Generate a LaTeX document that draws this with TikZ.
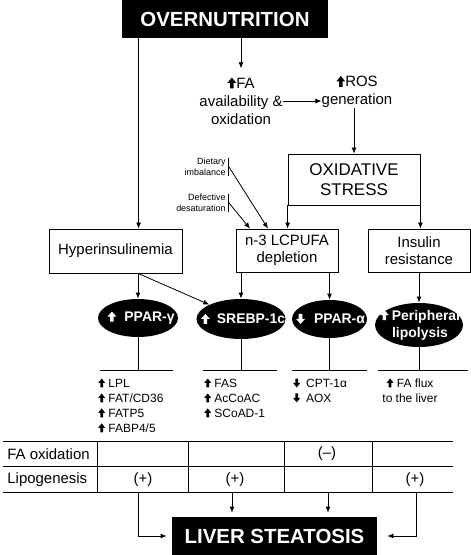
\documentclass[tikz,border=0pt]{standalone}
\usepackage{fontspec}
\setmainfont{Liberation Sans}
\usetikzlibrary{arrows.meta,shapes.geometric}
\newcommand{\blkup}[3]{\tikz[baseline=0pt]\fill[#3] (0.3*#1,0pt) -- (0.7*#1,0pt) -- (0.7*#1,0.5*#2) -- (#1,0.5*#2) -- (0.5*#1,#2) -- (0pt,0.5*#2) -- (0.3*#1,0.5*#2) -- cycle;}
\newcommand{\blkdown}[3]{\tikz[baseline=0pt]\fill[#3] (0.3*#1,#2) -- (0.7*#1,#2) -- (0.7*#1,0.5*#2) -- (#1,0.5*#2) -- (0.5*#1,0pt) -- (0pt,0.5*#2) -- (0.3*#1,0.5*#2) -- cycle;}
\begin{document}
\begin{tikzpicture}[x=1bp,y=-1bp, line width=0.8bp, >={Latex[length=6bp,width=5bp]},
  box/.style={draw, rectangle, inner sep=0pt, align=center, font=\fontsize{15}{17}\selectfont},
  blackbox/.style={fill=black, text=white, inner sep=0pt, font=\fontsize{20.5}{24}\selectfont\bfseries},
  blob/.style={ellipse, fill=black, inner sep=0pt},
  blobtext/.style={text=white, inner sep=0pt, align=center, font=\fontsize{14}{17}\selectfont\bfseries},
  plain/.style={inner sep=0pt, align=center, font=\fontsize{15}{18}\selectfont},
  small/.style={inner sep=0pt, align=right, font=\fontsize{9}{11.5}\selectfont},
  list/.style={inner sep=0pt, align=left, font=\fontsize{12}{15}\selectfont},
  cell/.style={inner sep=0pt, font=\fontsize{15}{18}\selectfont}]
\useasboundingbox (0,0) rectangle (471,555);

% top
\node[blackbox, minimum width=206bp, minimum height=38bp] (over) at (225,19) {OVERNUTRITION};
\node[plain] (fa) at (241,101) {\blkup{9pt}{11pt}{black}FA\\availability \&\\oxidation};
\node[plain] (ros) at (357,92) {\blkup{9pt}{11pt}{black}ROS\\generation};
\node[box, minimum width=132bp, minimum height=51bp, font=\fontsize{17}{20}\selectfont] (ox) at (354,179.5) {OXIDATIVE\\STRESS};

% second row boxes
\node[box, minimum width=133bp, minimum height=44bp] (hyper) at (115.5,251) {Hyperinsulinemia};
\node[box, minimum width=102bp, minimum height=43bp] (n3) at (287,250.5) {n-3 LCPUFA\\depletion};
\node[box, minimum width=102bp, minimum height=43bp] (ins) at (419,250.5) {Insulin\\resistance};

% small labels
\node[small, anchor=east] (diet) at (226,167) {Dietary\\imbalance};
\node[small, anchor=east] (defect) at (226,203) {Defective\\desaturation};
\draw ([xshift=2bp]diet.north east) -- ([xshift=2bp]diet.south east);
\draw ([xshift=2bp]defect.north east) -- ([xshift=2bp]defect.south east);

% ellipses
\node[blob, minimum width=80bp, minimum height=38bp] (pg) at (138,318) {};
\node[blob, minimum width=89bp, minimum height=40bp] (sr) at (241,319) {};
\node[blob, minimum width=75bp, minimum height=38bp] (pa) at (329.5,319) {};
\node[blob, minimum width=88bp, minimum height=44bp] (pl) at (419,325) {};
\node[blobtext] (pgt) at ([xshift=3bp]pg.center) {\blkup{9pt}{10pt}{white}\hspace{8bp}PPAR-γ};
\node[blobtext] (srt) at ([xshift=2bp]sr.center) {\blkup{9pt}{10pt}{white}\hspace{7bp}SREBP-1c};
\node[blobtext] (pat) at ([xshift=1bp]pa.center) {\blkdown{9pt}{10pt}{white}\hspace{9bp}PPAR-α};
\node[blobtext] (plt) at ([xshift=1bp]pl.center) {\blkup{9pt}{10pt}{white}\hspace{3bp}Peripheral\\lipolysis};

% connectors top
\draw[->] (over.south -| fa.north) -- ([yshift=9bp]fa.north);
\draw[->] (fa.east) -- (fa.east -| ros.west);
\draw[->] (ros.south -| ox.north) -- (ox.north);
\draw[->] ([xshift=17bp]over.south west) -- ([xshift=17bp]over.south west |- hyper.north);
\draw[->] (ox.south west) -- (ox.south west |- n3.north);
\draw[->] (ox.south east) -- (ox.south east |- ins.north);
\draw[->] ([xshift=3bp]diet.east) -- ([xshift=-19bp]n3.north);
\draw[->] ([xshift=3bp]defect.east) -- ([xshift=-37bp]n3.north);

% connectors to ellipses
\draw[->] (pg.north |- hyper.south) -- (pg.north);
\draw[->] (pg.north |- hyper.south) -- (sr.north west);
\draw[->] (sr.north |- n3.south) -- (sr.north);
\draw[->] (pa.north |- n3.south) -- (pa.north);
\draw[->] (pl.north |- ins.south) -- (pl.north);

% stems and bars
\coordinate (pgL) at (100,370); \coordinate (pgR) at (173,370);
\coordinate (srL) at (203,370); \coordinate (srR) at (277,370);
\coordinate (paL) at (292,370); \coordinate (paR) at (367,370);
\coordinate (plL) at (378,370); \coordinate (plR) at (468,370);
\draw (pgL) -- (pgR); \draw (srL) -- (srR); \draw (paL) -- (paR); \draw (plL) -- (plR);
\draw (pg.south) -- (pg.south |- pgL);
\draw (sr.south) -- (sr.south |- srL);
\draw (pa.south) -- (pa.south |- paL);
\draw (pl.south) -- (pl.south |- plL);

% lists
\node[list, anchor=north west] (pgl) at (98,378.3) {\blkup{7pt}{9pt}{black} LPL\\\blkup{7pt}{9pt}{black} FAT/CD36\\\blkup{7pt}{9pt}{black} FATP5\\\blkup{7pt}{9pt}{black} FABP4/5};
\node[list, anchor=north west] (srl) at (204,378.3) {\blkup{7pt}{9pt}{black} FAS\\\blkup{7pt}{9pt}{black} AcCoAC\\\blkup{7pt}{9pt}{black} SCoAD-1};
\node[list, anchor=north west] (pal) at (293,378.3) {\blkdown{7pt}{9pt}{black}\hspace{6bp}CPT-1α\\\blkdown{7pt}{9pt}{black}\hspace{6bp}AOX};
\node[list, anchor=north, align=center] (pll) at (410,378.3) {\blkup{7pt}{9pt}{black} FA flux\\to the liver};

% table
\coordinate (t1L) at (3,441); \coordinate (t1R) at (453,441);
\coordinate (t2L) at (3,466); \coordinate (t2R) at (453,466);
\coordinate (t3L) at (3,492); \coordinate (t3R) at (453,492);
\draw (t1L) -- (t1R); \draw (t2L) -- (t2R); \draw (t3L) -- (t3R);
\foreach \xx in {97,188,284,372} \draw (\xx,441) -- (\xx,492);
\node[cell, anchor=west] (fox) at (7,454) {FA oxidation};
\node[cell, anchor=west] (lip) at (7,480) {Lipogenesis};
\node[cell] (c1) at (143,480) {(+)};
\node[cell] (c2) at (235,480) {(+)};
\node[cell] (c4) at (415,480) {(+)};
\node[cell] (c3) at (327,454) {(–)};

% liver
\node[blackbox, minimum width=205bp, minimum height=38bp] (liver) at (274.5,536) {LIVER STEATOSIS};
\coordinate (b1) at (138,492); \coordinate (b2) at (232,492);
\coordinate (b3) at (328,492); \coordinate (b4) at (416,492);
\draw[->, shorten >=5bp] (b1) |- (liver.west);
\draw[->, shorten >=10bp] (b4) |- (liver.east);
\draw[->, shorten >=4bp] (b2) -- (b2 |- liver.north);
\draw[->, shorten >=4bp] (b3) -- (b3 |- liver.north);
\end{tikzpicture}
\end{document}
